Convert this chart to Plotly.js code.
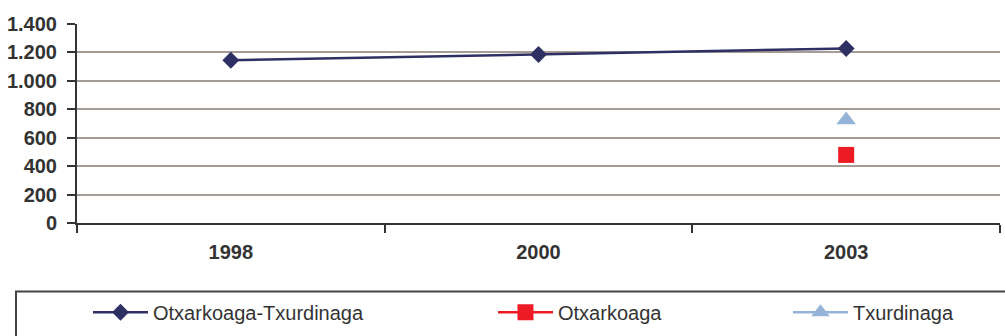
<!DOCTYPE html>
<html>
<head>
<meta charset="utf-8">
<script src="https://cdn.plot.ly/plotly-3.0.1.min.js"></script>
<style>html,body{margin:0;padding:0;background:#fff;}#chart{width:1005px;height:336px;}</style>
</head>
<body>
<div id="chart"></div>
<script>
const years = ["1998", "2000", "2003"];
const seriesNames = ["Otxarkoaga-Txurdinaga", "Otxarkoaga", "Txurdinaga"];
const totalValues = [1145, 1185, 1228];
const otxarkoagaValues = [null, null, 479];
const txurdinagaValues = [null, null, 725];
const yTickVals = [0, 200, 400, 600, 800, 1000, 1200, 1400];
const yTickText = ["0", "200", "400", "600", "800", "1.000", "1.200", "1.400"];

const W = 1005, H = 336, L = 77, R = 5, T = 24, B = 109;
const pw = W - L - R, ph = H - T - B;
const px = x => (x - L) / pw;
const py = y => (H - B - y) / ph;

const traces = [
  {x: years, y: totalValues, name: seriesNames[0], type: "scatter", mode: "lines+markers",
   line: {color: "#2E3064", width: 2.5}, marker: {symbol: "diamond", size: 13, color: "#2E3064"}, legend: "legend"},
  {x: years, y: otxarkoagaValues, name: seriesNames[1], type: "scatter", mode: "lines+markers",
   line: {color: "#ED1C24", width: 2.5}, marker: {symbol: "square", size: 16, color: "#ED1C24"}, legend: "legend2"},
  {x: years, y: txurdinagaValues, name: seriesNames[2], type: "scatter", mode: "lines+markers",
   line: {color: "#95B3D7", width: 2.5}, marker: {symbol: "triangle-up", size: 17, color: "#95B3D7"}, legend: "legend3"}
];

const legFont = {family: "Arial, 'Liberation Sans', sans-serif", size: 20, color: "#333333"};
const legBase = {orientation: "h", xanchor: "left", yanchor: "middle", font: legFont,
  bgcolor: "rgba(0,0,0,0)", borderwidth: 0, itemwidth: 55, itemclick: false, itemdoubleclick: false};

const layout = {
  width: W, height: H,
  margin: {l: L, r: R, t: T, b: B, pad: 0},
  paper_bgcolor: "#ffffff", plot_bgcolor: "#ffffff",
  font: {family: "Arial, 'Liberation Sans', sans-serif", color: "#333333"},
  showlegend: true,
  xaxis: {
    type: "category", range: [-0.5, 2.5], tickson: "boundaries",
    showgrid: false, showline: true, linecolor: "#333333", linewidth: 2,
    ticks: "outside", ticklen: 8, tickwidth: 2, tickcolor: "#333333",
    tickfont: {family: "Arial, 'Liberation Sans', sans-serif", size: 20, color: "#333333", weight: "bold"},
    ticklabelstandoff: 10, zeroline: false, fixedrange: true
  },
  yaxis: {
    range: [0, 1400], tickvals: yTickVals, ticktext: yTickText,
    showgrid: true, gridcolor: "#A59C96", gridwidth: 2,
    showline: true, linecolor: "#333333", linewidth: 2,
    ticks: "outside", ticklen: 8, tickwidth: 2, tickcolor: "#333333",
    tickfont: {family: "Arial, 'Liberation Sans', sans-serif", size: 20, color: "#333333", weight: "bold"},
    ticklabelstandoff: 6, zeroline: false, fixedrange: true
  },
  legend: Object.assign({}, legBase, {x: px(88), y: py(318)}),
  legend2: Object.assign({}, legBase, {x: px(493), y: py(318)}),
  legend3: Object.assign({}, legBase, {x: px(788), y: py(318)}),
  shapes: [
    {type: "rect", xref: "paper", yref: "paper", x0: px(16), x1: px(1010), y0: py(297), y1: py(345),
     line: {color: "#444444", width: 2}, fillcolor: "rgba(0,0,0,0)", layer: "below"}
  ],
  hovermode: false
};

Plotly.newPlot("chart", traces, layout, {displayModeBar: false, staticPlot: true});
</script>
</body>
</html>
